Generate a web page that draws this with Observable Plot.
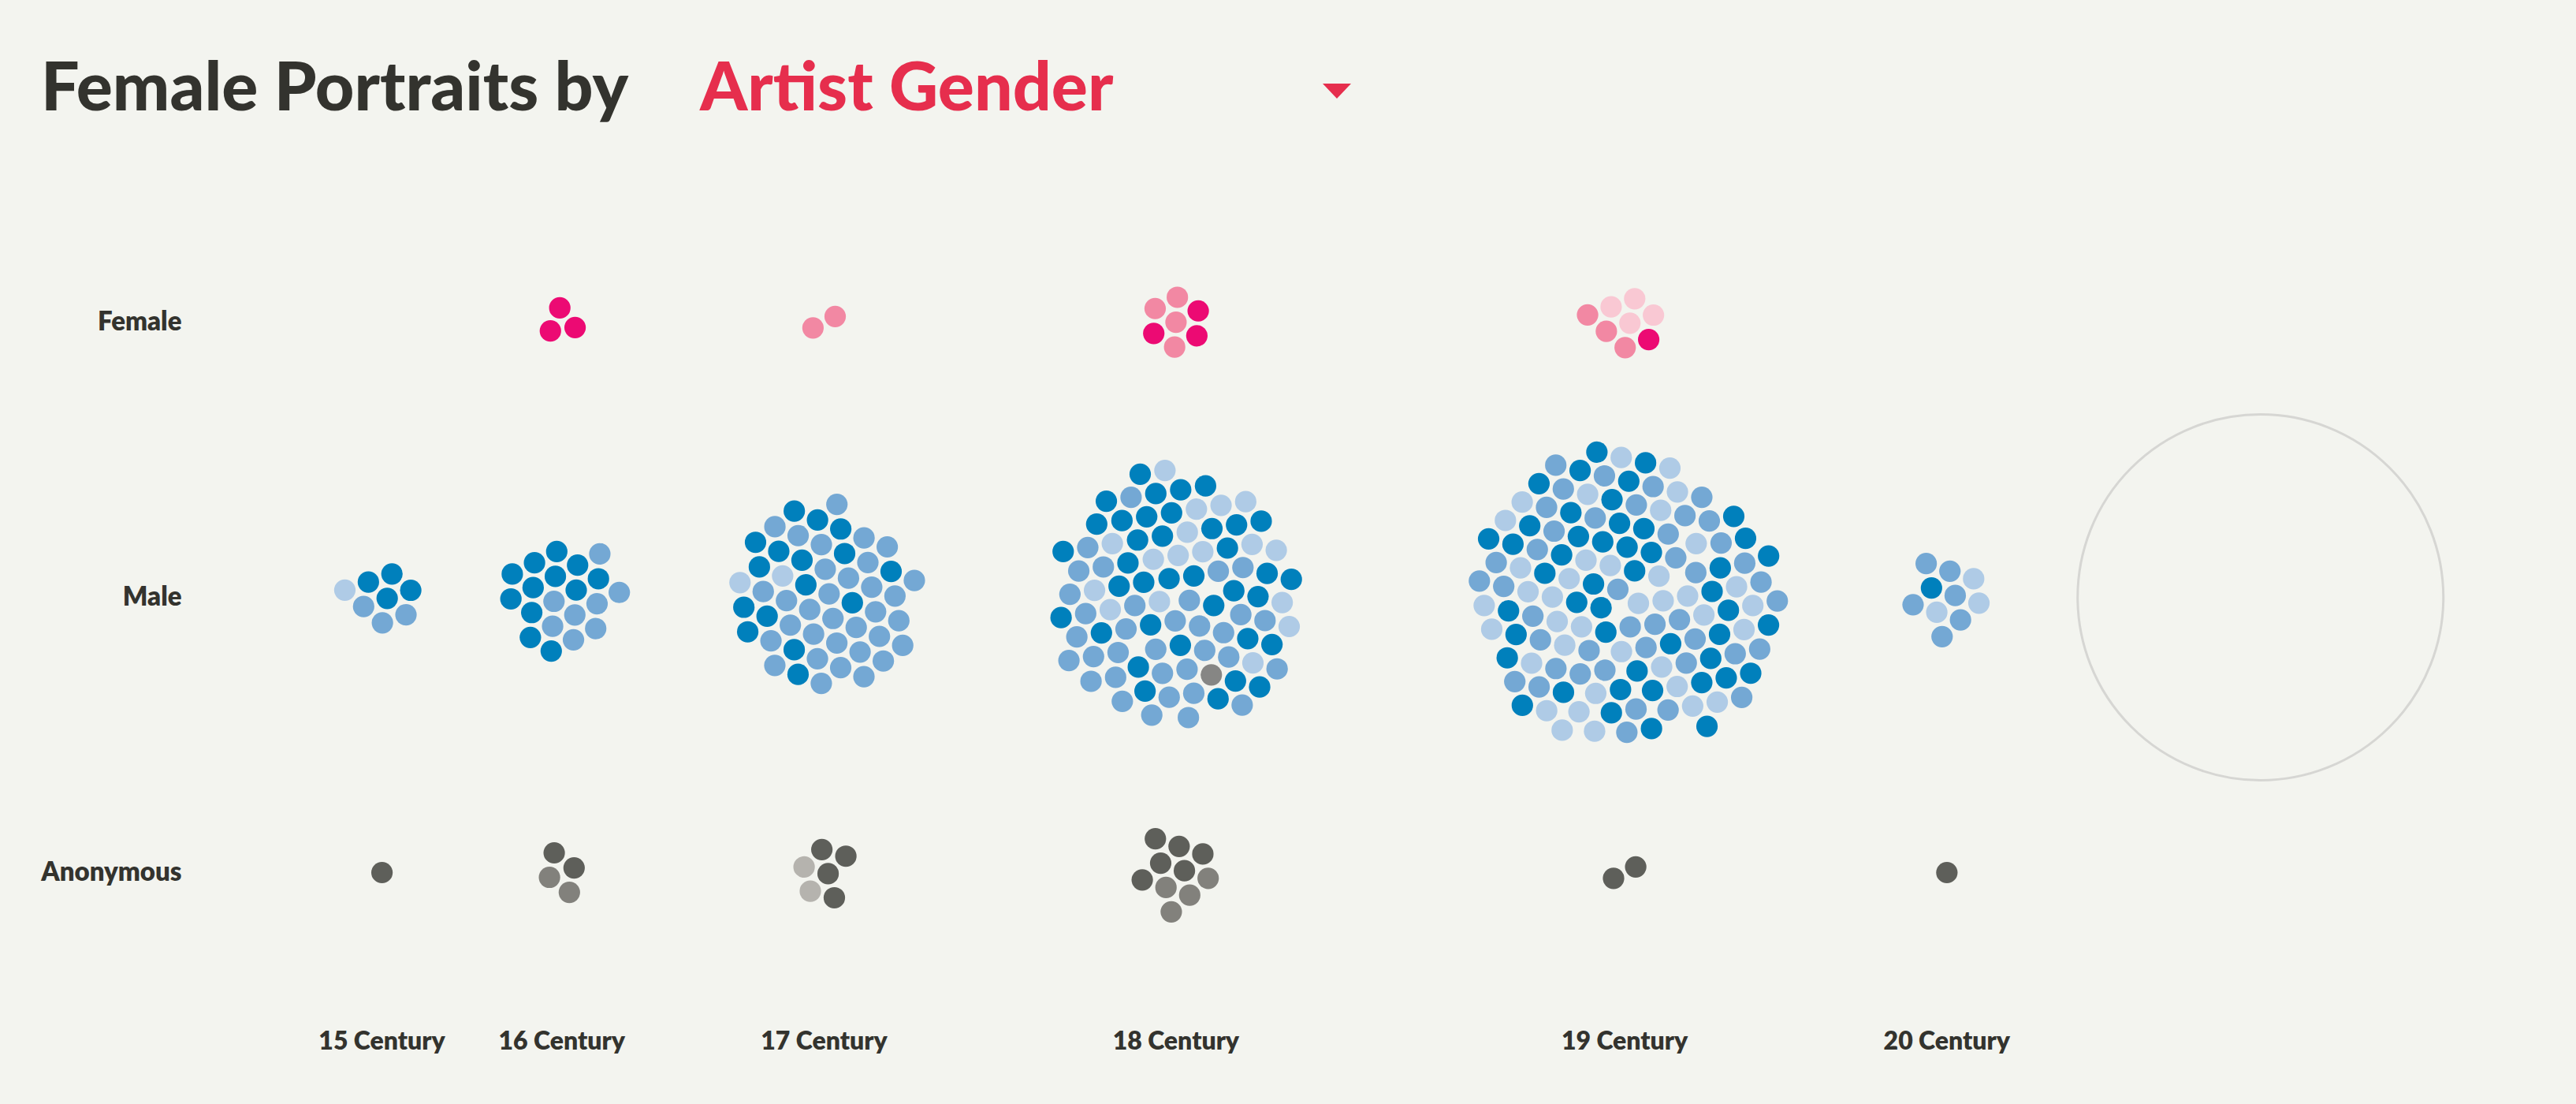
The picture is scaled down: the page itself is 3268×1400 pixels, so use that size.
<!DOCTYPE html>
<html>
<head>
<meta charset="utf-8">
<script src="https://cdn.jsdelivr.net/npm/d3@7"></script>
<script src="https://cdn.jsdelivr.net/npm/@observablehq/plot@0.6"></script>
<style>
  html, body { margin: 0; padding: 0; background: #f3f4ef; }
  #page { position: relative; width: 3268px; height: 1400px; overflow: hidden; font-family: Lato, "Noto Sans", sans-serif; }
  #title { position: relative; height: 200px; }
  .t { position: absolute; top: 64px; font-size: 86px; font-weight: 900; line-height: 86px; white-space: nowrap; }
  #caret { position: absolute; left: 1678px; top: 106px; width: 0; height: 0;
           border-left: 18px solid transparent; border-right: 18px solid transparent; border-top: 19px solid #e62e4d; }
</style>
</head>
<body>
<div id="page">
  <div id="title">
    <span class="t" style="left:52px;color:#33332e">Female Portraits by</span>
    <span class="t" style="left:888px;color:#e62e4d">Artist Gender</span>
    <div id="caret"></div>
  </div>
  <div id="chart"></div>
</div>
<script>
// ---------- data ----------
const centuries = ["15 Century", "16 Century", "17 Century", "18 Century", "19 Century", "20 Century"];
const genders = ["Female", "Male", "Anonymous"];
const tones = ["dark", "medium", "light", "grey"];

// portrait counts per century (15th..20th), split by shade
const femaleDark   = [0, 3, 0, 3, 1, 0];
const femaleMedium = [0, 0, 2, 4, 3, 0];
const femaleLight  = [0, 0, 0, 0, 4, 0];

const maleDark     = [4, 12, 16, 37, 47, 1];
const maleMedium   = [3, 8, 33, 34, 43, 6];
const maleLight    = [1, 0, 2, 17, 38, 3];
const maleGrey     = [0, 0, 0, 1, 0, 0];

const anonDark     = [1, 2, 4, 6, 2, 1];
const anonMedium   = [0, 2, 0, 4, 0, 0];
const anonLight    = [0, 0, 2, 0, 0, 0];

// colours per gender & shade
const palette = {
  "Female|dark": "#ec0a73", "Female|medium": "#f288a3", "Female|light": "#f9c8d3",
  "Male|dark": "#0080bc", "Male|medium": "#74a8d4", "Male|light": "#afcbe6", "Male|grey": "#868684",
  "Anonymous|dark": "#5e5f5a", "Anonymous|medium": "#82817c", "Anonymous|light": "#b5b3ae"
};

const counts = {
  Female: {dark: femaleDark, medium: femaleMedium, light: femaleLight},
  Male: {dark: maleDark, medium: maleMedium, light: maleLight, grey: maleGrey},
  Anonymous: {dark: anonDark, medium: anonMedium, light: anonLight}
};

// ---------- layout (units = px) ----------
const W = 3268, H = 1200;
const dotR = 13.6;          // dot radius
const collideR = 15.8;      // dot radius + half gap
const rowGap = 349;         // distance between gender rows
const firstCenter = 484;    // left inset of the first century cluster
const rowTop = 208;         // inset of the first row
const spread = 1.55;        // spacing factor between neighbouring clusters
const detailSpread = 1.38;  // spacing factor before the detail circle
const detailR = 232;        // empty detail circle on the right

function pack(items) {
  const nodes = items.map(d => ({...d}));
  if (!nodes.length) return nodes;
  const sim = d3.forceSimulation(nodes)
    .force("x", d3.forceX(0).strength(0.06))
    .force("y", d3.forceY(0).strength(0.06))
    .force("c", d3.forceCollide(collideR).strength(0.9).iterations(3))
    .stop();
  for (let i = 0; i < 450; i++) sim.tick();
  return nodes;
}

const nodes = [];
const halfW = centuries.map(() => 0);
genders.forEach((g, gi) => {
  centuries.forEach((c, ci) => {
    const items = [];
    tones.forEach((t, ti) => {
      const arr = counts[g][t];
      if (!arr) return;
      const n = arr[ci];
      for (let k = 0; k < n; k++) items.push({gender: g, gi, century: c, ci, tone: t, key: (k + 0.5) / n + ti * 1e-3});
    });
    items.sort((a, b) => a.key - b.key);
    const packed = pack(items);
    packed.forEach(d => {
      halfW[ci] = Math.max(halfW[ci], Math.abs(d.x) + dotR);
      nodes.push(d);
    });
  });
});

const centers = [0];
for (let i = 1; i < centuries.length; i++) centers.push(centers[i - 1] + spread * (halfW[i - 1] + halfW[i]));
const detailCenter = centers[centers.length - 1] + detailSpread * (halfW[halfW.length - 1] + detailR);

const chart = Plot.plot({
  width: W,
  height: H,
  marginLeft: 232,
  marginBottom: 100,
  marginTop: 0,
  marginRight: 0,
  style: {background: "transparent", fontFamily: "Lato, 'Noto Sans', sans-serif", color: "#33332e"},
  x: {type: "linear", domain: [-firstCenter, W - firstCenter], range: [0, W]},
  y: {type: "linear", domain: [0, 2 * rowGap], range: [rowTop, rowTop + 2 * rowGap]},
  color: {domain: Object.keys(palette), range: Object.values(palette)},
  marks: [
    Plot.dot([{gender: "Male"}], {
      x: () => detailCenter, y: () => rowGap, r: detailR,
      fill: "none", stroke: "#d6d6d3", strokeWidth: 3
    }),
    Plot.dot(nodes, {
      x: d => centers[d.ci] + d.x,
      y: d => d.gi * rowGap + d.y,
      r: dotR,
      fill: d => d.gender + "|" + d.tone
    }),
    Plot.axisY({
      ticks: genders.map((g, i) => i * rowGap),
      tickFormat: v => genders[Math.round(v / rowGap)],
      tickSize: 0, tickPadding: 2, anchor: "left",
      fontSize: 33, fontWeight: 800, fill: "#33332e"
    }),
    Plot.axisX({
      ticks: centers,
      tickFormat: v => centuries[centers.indexOf(v)],
      tickSize: 0, tickPadding: 8, anchor: "bottom",
      fontSize: 32, fontWeight: 800, fill: "#33332e"
    })
  ]
});
document.getElementById("chart").appendChild(chart);
</script>
</body>
</html>
